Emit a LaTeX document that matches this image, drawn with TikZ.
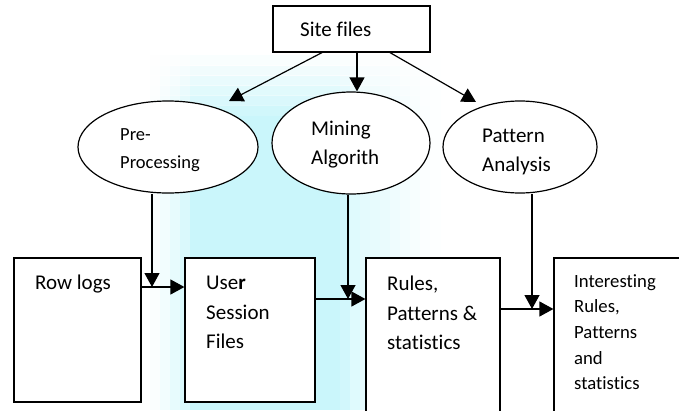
\documentclass[tikz,border=0pt]{standalone}
\usepackage{fontspec}
\setmainfont{Carlito}[Ligatures=NoCommon]
\usetikzlibrary{arrows.meta,shapes.geometric}
\definecolor{washcyan}{RGB}{202,246,251}

\tikzset{
  box/.style={draw, line width=1.2pt, fill=white, inner sep=0pt},
  oval/.style={draw, ellipse, line width=1.2pt, fill=white, inner sep=0pt},
  txt/.style={anchor=north west, align=left, inner sep=0pt, font=\fontsize{21}{29.5}\selectfont},
  flow/.style={line width=1.2pt, -{Triangle[length=14pt,width=15pt]}}
}

\begin{document}
\begin{tikzpicture}[x=1pt, y=-1pt]
        \useasboundingbox (0,0) rectangle (679,410);

        % background wash
        \foreach \x/\p in {150/10,160/25,170/45,180/70,190/100,200/100,210/100,220/100,230/100,
                           240/100,250/100,260/100,270/100,280/100,290/100,300/100,310/100,
                           320/100,330/100,340/85,350/60,360/50,370/45,380/40,390/30,400/22,
                           410/15,420/8,430/4}
          \fill[washcyan!\p!white] (\x,55) rectangle +(10.5,355);
        \foreach \y/\o in {55/0.9,65/0.75,75/0.6,85/0.45,95/0.3,105/0.15}
          \fill[white, opacity=\o] (150,\y) rectangle +(295,10.5);

        % Source
        \node[box, minimum width=157pt, minimum height=46pt] (site) at (351.5,29) {};
        \node[txt, font=\fontsize{21}{30}\selectfont] (sitetxt) at (300,22) {Site files};

        % Processing steps
        \node[oval, minimum width=180pt, minimum height=92pt] (pre) at (168,147) {};
        \node[txt, font=\fontsize{18.5}{28}\selectfont] (pretxt) at (120,128) {Pre-\\Processing};

        \node[oval, minimum width=158pt, minimum height=102pt] (mine) at (351,143) {};
        \node[txt, font=\fontsize{21}{29}\selectfont] (minetxt) at (311,121) {Mining\\Algorith};

        \node[oval, minimum width=154pt, minimum height=92pt] (patt) at (520,147) {};
        \node[txt, font=\fontsize{21}{29}\selectfont] (patttxt) at (482,129) {Pattern\\Analysis};

        % Data stages
        \node[box, minimum width=127pt, minimum height=144pt] (row) at (77.5,330) {};
        \node[txt] (rowtxt) at (35,275) {Row logs};

        \node[box, minimum width=130pt, minimum height=144pt] (user) at (250,330) {};
        \node[txt] (usertxt) at (206,276) {Use\textbf{r}\\Session\\Files};

        \node[box, minimum width=134pt, minimum height=160pt] (rules) at (433,338) {};
        \node[txt] (rulestxt) at (387,276) {Rules,\\Patterns \&\\statistics};

        \node[box, minimum width=140pt, minimum height=170pt] (intr) at (624,343) {};
        \node[txt, font=\fontsize{18.7}{25.7}\selectfont] (intrtxt) at (574,274) {Interesting\\Rules,\\Patterns\\and\\statistics};

        % Connections
        \coordinate (preTip) at (229,101);
        \coordinate (pattTip) at (476,102);
        \draw[flow] ([xshift=-29.5pt]site.south) -- (preTip);
        \draw[flow] ([xshift=5.5pt]site.south) -- ([xshift=5.5pt]site.south |- mine.north);
        \draw[flow] ([xshift=38.5pt]site.south) -- (pattTip);

        \coordinate (j1) at (152,287);
        \coordinate (j2) at (348,299);
        \coordinate (j3) at (532,309);
        \draw[flow] (pre.south -| j1) -- (j1);
        \draw[flow] (row.east |- j1) -- (user.west |- j1);
        \draw[flow] (mine.south -| j2) -- (j2);
        \draw[flow] (user.east |- j2) -- (rules.west |- j2);
        \draw[flow] (patt.south -| j3) -- (j3);
        \draw[flow] (rules.east |- j3) -- (intr.west |- j3);
    \end{tikzpicture}
\end{document}
